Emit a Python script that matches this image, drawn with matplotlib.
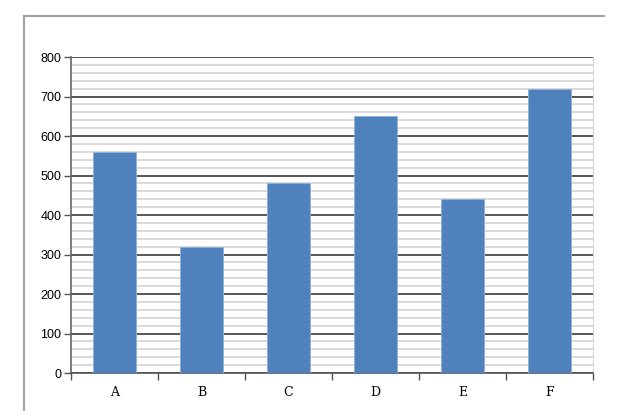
import matplotlib.pyplot as plt
from matplotlib.lines import Line2D
from matplotlib.ticker import MultipleLocator

categories = ["A", "B", "C", "D", "E", "F"]
values = [560, 320, 480, 650, 440, 720]

fig = plt.figure(figsize=(6.36, 4.11), dpi=100)
ax = fig.add_axes([71 / 636, 1 - 373 / 411, (593 - 71) / 636, (373 - 57) / 411])

x = list(range(len(categories)))
ax.bar(x, values, width=0.5, color="#4F81BD", edgecolor="#8fb0d8", linewidth=0.6, zorder=3)

ax.set_xlim(-0.5, len(categories) - 0.5)
ax.set_ylim(0, 800)
ax.yaxis.set_major_locator(MultipleLocator(100))
ax.yaxis.set_minor_locator(MultipleLocator(20))
ax.grid(which="major", axis="y", color="#3a3a3a", linewidth=1.2, zorder=1)
ax.grid(which="minor", axis="y", color="#d4d4d4", linewidth=1.2, zorder=0)

# tick marks between categories on the x axis
ax.set_xticks([i + 0.5 for i in range(-1, len(categories))])
ax.set_xticklabels([])
ax.set_xticks(x, minor=True)
ax.set_xticklabels(categories, minor=True, family="DejaVu Serif", fontsize=9)
ax.tick_params(axis="x", which="major", length=5, width=1, color="#555555", direction="out")
ax.tick_params(axis="x", which="minor", length=0, pad=9)
ax.tick_params(axis="y", which="major", length=5, width=1, color="#555555", labelsize=9, pad=2)
ax.tick_params(axis="y", which="minor", length=0)
for lbl in ax.get_yticklabels():
    lbl.set_family("Liberation Sans")

for side in ["top"]:
    ax.spines[side].set_visible(False)
ax.spines["right"].set_color("#d4d4d4")
ax.spines["left"].set_color("#666666")
ax.spines["left"].set_linewidth(1.2)
ax.spines["bottom"].set_color("#555555")
ax.spines["bottom"].set_linewidth(1.2)

# outer chart border (left and top edges)
fig.add_artist(Line2D([24 / 636, 24 / 636], [0, 1 - 16 / 411], color="#a0a0a0", linewidth=1.5))
fig.add_artist(Line2D([24 / 636, 604 / 636], [1 - 16 / 411, 1 - 16 / 411], color="#a0a0a0", linewidth=1.5))

fig.savefig("out.png", dpi=100)
